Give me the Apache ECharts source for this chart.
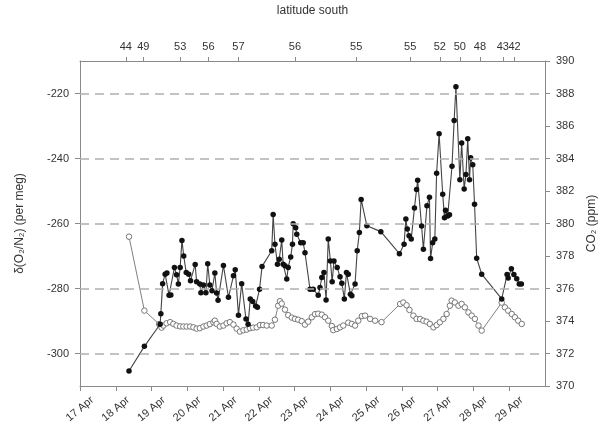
<!DOCTYPE html>
<html>
<head>
<meta charset="utf-8">
<script src="https://cdn.jsdelivr.net/npm/echarts@6/dist/echarts.min.js"></script>
<style>
  html, body { margin: 0; padding: 0; background: #fff; }
  #chart { width: 608px; height: 428px; }
</style>
</head>
<body>
<div id="chart"></div>
<script>
// Time is in days of April (fractional).
const o2Days = [18.37, 18.80, 19.24, 19.26, 19.31, 19.38, 19.43, 19.49, 19.54, 19.64, 19.70, 19.75, 19.80, 19.85, 19.90, 19.97, 20.04, 20.09, 20.22, 20.26,
  20.35, 20.38, 20.45, 20.52, 20.57, 20.63, 20.69, 20.77, 20.82, 20.86, 21.01, 21.15, 21.29, 21.34, 21.43, 21.52, 21.64, 21.70, 21.76, 21.83,
  21.91, 21.96, 22.02, 22.09, 22.36, 22.40, 22.45, 22.52, 22.57, 22.64, 22.68, 22.73, 22.78, 22.82, 22.89, 22.94, 22.96, 23.03, 23.06, 23.17,
  23.24, 23.29, 23.43, 23.52, 23.66, 23.71, 23.76, 23.82, 23.88, 23.94, 24.00, 24.05, 24.10, 24.19, 24.27, 24.32, 24.39, 24.45, 24.50, 24.56,
  24.60, 24.69, 24.75, 24.81, 24.86, 25.02, 25.41, 25.93, 26.06, 26.11, 26.15, 26.20, 26.26, 26.35, 26.41, 26.44, 26.55, 26.60, 26.70, 26.77,
  26.80, 26.86, 26.92, 26.97, 27.04, 27.14, 27.19, 27.22, 27.28, 27.33, 27.40, 27.46, 27.51, 27.62, 27.67, 27.74, 27.79, 27.84, 27.89, 27.92,
  27.98, 28.03, 28.09, 28.23, 28.79, 28.94, 28.97, 29.06, 29.13, 29.21, 29.28, 29.34];
// δ(O2/N2) in per meg
const o2Values = [-305.4, -297.8, -291.0, -287.8, -278.5, -275.6, -275.2, -282.1, -282.0, -273.5, -275.8, -278.6, -273.5, -265.2, -270.0, -275.1, -275.6, -277.6, -272.6, -277.9,
  -278.6, -281.3, -278.9, -281.3, -272.4, -278.9, -280.7, -275.2, -281.4, -283.6, -272.9, -282.7, -276.1, -274.2, -288.2, -278.5, -289.4, -291.0, -283.2, -284.0,
  -285.4, -285.8, -280.2, -273.2, -268.4, -257.2, -266.4, -272.5, -271.0, -265.1, -272.5, -273.0, -277.1, -273.5, -270.3, -266.4, -260.1, -261.3, -263.3, -265.9,
  -265.9, -269.0, -280.2, -280.2, -282.1, -279.7, -276.6, -275.1, -283.5, -264.8, -271.5, -277.9, -271.5, -273.5, -276.4, -278.4, -283.2, -275.1, -275.6, -281.8,
  -282.2, -278.6, -268.4, -262.8, -252.6, -260.7, -262.5, -269.3, -266.4, -258.6, -261.7, -263.8, -264.8, -255.2, -249.5, -246.7, -260.8, -267.9, -254.5, -251.9,
  -270.8, -265.9, -264.8, -244.5, -232.4, -251.0, -258.2, -255.9, -257.7, -257.3, -242.4, -228.3, -217.9, -246.5, -235.2, -249.4, -244.9, -233.9, -246.5, -239.8,
  -241.9, -254.1, -270.7, -275.6, -283.2, -275.7, -276.8, -273.9, -275.7, -277.0, -278.6, -278.6];

const co2Days = [18.37, 18.80, 19.21, 19.28, 19.33, 19.42, 19.52, 19.61, 19.70, 19.80, 19.89, 19.98, 20.08, 20.17, 20.26, 20.35, 20.45, 20.54, 20.63, 20.73,
  20.77, 20.82, 20.91, 21.01, 21.10, 21.19, 21.29, 21.38, 21.47, 21.57, 21.66, 21.75, 21.84, 21.94, 22.03, 22.12, 22.22, 22.36, 22.45, 22.54,
  22.59, 22.64, 22.73, 22.82, 22.92, 23.01, 23.10, 23.20, 23.29, 23.38, 23.48, 23.57, 23.66, 23.76, 23.85, 23.94, 24.04, 24.08, 24.18, 24.27,
  24.36, 24.50, 24.60, 24.69, 24.78, 24.88, 24.97, 25.11, 25.25, 25.43, 25.95, 26.04, 26.13, 26.21, 26.32, 26.41, 26.51, 26.60, 26.69, 26.78,
  26.88, 26.97, 27.06, 27.16, 27.25, 27.34, 27.39, 27.48, 27.58, 27.67, 27.76, 27.86, 27.95, 28.04, 28.14, 28.23, 28.79, 28.88, 28.97, 29.07,
  29.16, 29.25, 29.35];
// CO2 in ppm
const co2Values = [379.19, 374.64, 373.81, 373.59, 373.72, 373.86, 373.93, 373.82, 373.72, 373.67, 373.66, 373.66, 373.66, 373.61, 373.53, 373.56, 373.66, 373.72, 373.81, 373.92,
  374.02, 373.82, 373.66, 373.72, 373.86, 373.93, 373.78, 373.53, 373.35, 373.43, 373.47, 373.56, 373.59, 373.61, 373.75, 373.75, 373.72, 373.72, 374.08, 374.94,
  375.22, 375.07, 374.70, 374.36, 374.21, 374.13, 374.08, 373.99, 373.78, 373.96, 374.23, 374.42, 374.45, 374.39, 374.23, 374.02, 373.69, 373.44, 373.51, 373.61,
  373.72, 373.90, 373.82, 373.72, 374.02, 374.30, 374.33, 374.13, 374.02, 373.93, 375.05, 375.14, 374.97, 374.68, 374.33, 374.13, 374.12, 374.02, 373.96, 373.82,
  373.61, 373.75, 373.92, 374.13, 374.43, 374.94, 375.25, 375.14, 374.94, 375.05, 374.84, 374.53, 374.33, 374.13, 373.72, 373.41, 375.13, 374.84, 374.64, 374.43,
  374.23, 374.02, 373.82];

// Ship latitude marks along the top axis
const latDays = [18.28, 18.77, 19.80, 20.59, 21.43, 23.01, 24.72, 26.23, 27.06, 27.62, 28.18, 28.82, 29.15];
const latLabels = ['44', '49', '53', '56', '57', '56', '55', '55', '52', '50', '48', '43', '42'];

const dayTicks = [17, 18, 19, 20, 21, 22, 23, 24, 25, 26, 27, 28, 29];
const o2Ticks = [-300, -280, -260, -240, -220];
const gridLevels = [-300, -280, -260, -240, -220];

const FONT = 'Liberation Sans, Arial, sans-serif';
const TEXT = '#333';
const AXIS = '#8a8a8a';

const pair = (xs, ys) => xs.map((x, i) => [x, ys[i]]);

const latLabelFor = v => {
  let best = 0;
  latDays.forEach((d, i) => { if (Math.abs(d - v) < Math.abs(latDays[best] - v)) best = i; });
  return latLabels[best];
};

// The latitude marks sit close together near the end of the cruise, so they are
// split over two coincident top axes (alternate marks on each) to keep every label.
const latEven = latDays.filter((d, i) => i % 2 === 0);
const latOdd = latDays.filter((d, i) => i % 2 === 1);

const topAxis = (values, withLine, withName) => ({
  type: 'value', position: 'top', min: 17, max: 30, offset: 0,
  name: withName ? 'latitude south' : '', nameLocation: 'middle', nameGap: 44,
  nameTextStyle: { color: TEXT, fontSize: 12, fontFamily: FONT },
  axisLine: { show: withLine, onZero: false, lineStyle: { color: AXIS, width: 1 } },
  axisTick: { show: true, length: 4, customValues: values, lineStyle: { color: AXIS } },
  axisLabel: {
    customValues: values, margin: 9, hideOverlap: false,
    color: TEXT, fontSize: 11, fontFamily: FONT,
    formatter: latLabelFor
  },
  splitLine: { show: false }
});

const chart = echarts.init(document.getElementById('chart'), null, { renderer: 'canvas' });
chart.setOption({
  animation: false,
  backgroundColor: '#fff',
  textStyle: { fontFamily: FONT },
  grid: { left: 80, right: 63, top: 60, bottom: 42, containLabel: false },
  xAxis: [
    {
      type: 'value', position: 'bottom', min: 17, max: 30,
      axisLine: { show: true, onZero: false, lineStyle: { color: AXIS, width: 1 } },
      axisTick: { show: true, length: 5, customValues: dayTicks, lineStyle: { color: AXIS } },
      axisLabel: {
        customValues: dayTicks, rotate: 40, align: 'center', verticalAlign: 'middle', margin: 23,
        hideOverlap: false,
        color: TEXT, fontSize: 11, fontFamily: FONT,
        formatter: v => Math.round(v) + ' Apr'
      },
      splitLine: { show: false }
    },
    topAxis(latEven, true, true),
    topAxis(latOdd, false, false)
  ],
  yAxis: [
    {
      type: 'value', position: 'left', min: -310, max: -210,
      name: 'δ(O₂/N₂) (per meg)', nameLocation: 'middle', nameGap: 54,
      nameTextStyle: { color: TEXT, fontSize: 12, fontFamily: FONT },
      axisLine: { show: true, onZero: false, lineStyle: { color: AXIS, width: 1 } },
      axisTick: { show: true, length: 5, customValues: o2Ticks, lineStyle: { color: AXIS } },
      axisLabel: { customValues: o2Ticks, margin: 11, color: TEXT, fontSize: 11, fontFamily: FONT },
      splitLine: { show: false }
    },
    {
      type: 'value', position: 'right', min: 370, max: 390, interval: 2,
      name: 'CO₂ (ppm)', nameLocation: 'middle', nameGap: 40,
      nameTextStyle: { color: TEXT, fontSize: 12, fontFamily: FONT },
      axisLine: { show: true, onZero: false, lineStyle: { color: AXIS, width: 1 } },
      axisTick: { show: true, length: 5, lineStyle: { color: AXIS } },
      axisLabel: { margin: 11, color: TEXT, fontSize: 11, fontFamily: FONT },
      splitLine: { show: false }
    }
  ],
  series: [
    {
      // dashed reference levels
      type: 'line', data: [], xAxisIndex: 0, yAxisIndex: 0, z: 1, silent: true,
      markLine: {
        silent: true, symbol: ['none', 'none'], label: { show: false },
        lineStyle: { color: '#b0b0b0', type: [9, 6], width: 1.5 },
        data: gridLevels.map(v => ({ yAxis: v }))
      }
    },
    {
      name: 'CO₂', type: 'line', xAxisIndex: 0, yAxisIndex: 1, z: 3,
      data: pair(co2Days, co2Values),
      symbol: 'circle', symbolSize: 5.5, showAllSymbol: true,
      lineStyle: { color: '#808080', width: 1 },
      itemStyle: { color: '#fff', borderColor: '#777', borderWidth: 1 }
    },
    {
      name: 'δ(O₂/N₂)', type: 'line', xAxisIndex: 0, yAxisIndex: 0, z: 4,
      data: pair(o2Days, o2Values),
      symbol: 'circle', symbolSize: 5.5, showAllSymbol: true,
      lineStyle: { color: '#444', width: 1.1 },
      itemStyle: { color: '#111', borderColor: '#111', borderWidth: 0 }
    }
  ]
});
</script>
</body>
</html>
